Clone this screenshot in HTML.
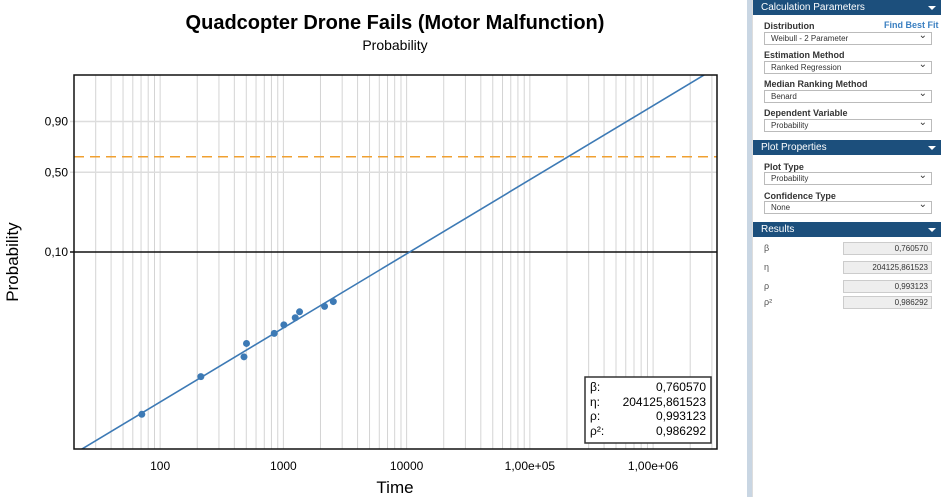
<!DOCTYPE html>
<html><head><meta charset="utf-8"><style>
body{margin:0;width:943px;height:497px;overflow:hidden;background:#fff;font-family:"Liberation Sans",Arial,sans-serif;position:relative}
.hdr{position:absolute;left:753px;width:188px;height:15px;background:#1c4f7c;color:#fff;font-size:10px;line-height:15px;padding-left:8px;box-sizing:border-box}
.hdr:after{content:"";position:absolute;right:5px;top:6px;border:4px solid transparent;border-top:4px solid #fff;border-bottom:0}
.lbl{position:absolute;left:764px;font-size:9px;font-weight:bold;color:#333}
.sel{position:absolute;left:764px;width:168px;height:13px;border:1px solid #bbb;box-sizing:border-box;background:#fff;font-size:8px;line-height:11px;padding-left:6px;color:#333}
.sel:after{content:"⌄";position:absolute;right:4px;top:-3px;font-size:10px}
.rl{position:absolute;left:764px;font-size:9px;color:#555}
.rv{position:absolute;left:843px;width:89px;height:13px;border:1px solid #ccc;box-sizing:border-box;background:#eee;font-size:8px;line-height:11px;text-align:right;padding-right:3px;color:#333}
</style></head><body>
<svg id="chart" width="745" height="497" style="position:absolute;left:0;top:0" font-family="Liberation Sans, Arial, sans-serif">
<text x="395" y="29" text-anchor="middle" font-size="20" font-weight="bold">Quadcopter Drone Fails (Motor Malfunction)</text>
<text x="395" y="50" text-anchor="middle" font-size="14">Probability</text>
<g id="grid"></g><g id="marks"></g>
<rect x="74" y="75" width="643" height="374" fill="none" stroke="#111" stroke-width="1.5"/>
<text x="395" y="493" text-anchor="middle" font-size="17">Time</text>
<text transform="translate(18,262) rotate(-90)" text-anchor="middle" font-size="17">Probability</text>
<g font-size="12">
<rect x="585" y="377" width="126" height="66" fill="#fff" stroke="#333" stroke-width="1.5"/>
<text x="590" y="391">β:</text><text x="706" y="391" text-anchor="end">0,760570</text>
<text x="590" y="406">η:</text><text x="706" y="406" text-anchor="end">204125,861523</text>
<text x="590" y="420">ρ:</text><text x="706" y="420" text-anchor="end">0,993123</text>
<text x="590" y="435">ρ²:</text><text x="706" y="435" text-anchor="end">0,986292</text>
</g>
</svg>
<div style="position:absolute;left:747px;top:0;width:5px;height:497px;background:#c9d6e3"></div>
<div style="position:absolute;left:752px;top:0;width:191px;height:497px;background:#fff;border-left:1px solid #ddd"></div>
<div class="hdr" style="top:0">Calculation Parameters</div>
<div class="lbl" style="top:21px">Distribution</div>
<div style="position:absolute;left:884px;top:20px;font-size:9px;font-weight:bold;color:#3a7fc1">Find Best Fit</div>
<div class="sel" style="top:32px">Weibull - 2 Parameter</div>
<div class="lbl" style="top:50px">Estimation Method</div>
<div class="sel" style="top:61px">Ranked Regression</div>
<div class="lbl" style="top:79px">Median Ranking Method</div>
<div class="sel" style="top:90px">Benard</div>
<div class="lbl" style="top:108px">Dependent Variable</div>
<div class="sel" style="top:119px">Probability</div>
<div class="hdr" style="top:140px">Plot Properties</div>
<div class="lbl" style="top:162px">Plot Type</div>
<div class="sel" style="top:172px">Probability</div>
<div class="lbl" style="top:191px">Confidence Type</div>
<div class="sel" style="top:201px">None</div>
<div class="hdr" style="top:222px">Results</div>
<div class="rl" style="top:243px">β</div>
<div class="rv" style="top:242px">0,760570</div>
<div class="rl" style="top:262px">η</div>
<div class="rv" style="top:261px">204125,861523</div>
<div class="rl" style="top:281px">ρ</div>
<div class="rv" style="top:280px">0,993123</div>
<div class="rl" style="top:297px">ρ²</div>
<div class="rv" style="top:296px">0,986292</div>
<script>
const times=[71,214,479,502,843,1009,1248,1353,2158,2541];
const probs=[0.00227,0.00552,0.0088,0.01205,0.01527,0.01863,0.022,0.0253,0.0287,0.0321];
const beta=0.76057, eta=204125.861523;
const yTicks=[0.9,0.5,0.1];
const yTickLabels=["0,90","0,50","0,10"];
const xTicks=[100,1000,10000,100000,1000000];
const xTickLabels=["100","1000","10000","1,00e+05","1,00e+06"];
const refProb=0.632;
const X0=74,X1=717,Y0=75,Y1=449,xmin=20,xmax=3.3e6,pmin=0.001,pmax=0.999;
const NS="http://www.w3.org/2000/svg";
const lx=t=>Math.log10(t), wy=p=>Math.log(-Math.log(1-p));
const sx=t=>X0+(lx(t)-lx(xmin))/(lx(xmax)-lx(xmin))*(X1-X0);
const sy=p=>Y1-(wy(p)-wy(pmin))/(wy(pmax)-wy(pmin))*(Y1-Y0);
// linearized y for fit line (avoids p saturation)
const syLin=t=>Y1-(beta*(Math.log(t)-Math.log(eta))-wy(pmin))/(wy(pmax)-wy(pmin))*(Y1-Y0);
function mk(tag,at,parent){const e=document.createElementNS(NS,tag);for(const k in at)e.setAttribute(k,at[k]);parent.appendChild(e);return e;}
const g=document.getElementById('grid'),m=document.getElementById('marks');
for(let d=1;d<=6;d++)for(let k=1;k<=9;k++){const t=k*Math.pow(10,d);if(t<xmin||t>xmax)continue;
 const l=mk('line',{x1:sx(t),x2:sx(t),y1:Y0,y2:Y1,stroke:'#d4d4d4','stroke-width':1},g);
 
 }
xTicks.forEach((t,i)=>{const e=mk('text',{x:sx(t),y:470,'text-anchor':'middle','font-size':12},g);e.textContent=xTickLabels[i];
 
 });
yTicks.forEach((p,i)=>{const y=sy(p);
 const l=mk('line',{x1:X0-4,x2:X1,y1:y,y2:y,stroke:p===0.1?'#111':'#ddd','stroke-width':1.5},g);
 
 
 const e=mk('text',{x:X0-6,y:y+4,'text-anchor':'end','font-size':12},g);e.textContent=yTickLabels[i];
 
 });
const ref=mk('line',{x1:X0,x2:X1,y1:sy(refProb),y2:sy(refProb),stroke:'#f0a030','stroke-width':1.5,'stroke-dasharray':'10,6'},m);


const tA=xmin/2,tB=xmax*2;
const cp=mk('clipPath',{id:'cp'},m);mk('rect',{x:X0,y:Y0,width:X1-X0,height:Y1-Y0},cp);
const fl=mk('line',{x1:sx(tA),y1:syLin(tA),x2:sx(tB),y2:syLin(tB),stroke:'#3d7ab5','stroke-width':1.6,'clip-path':'url(#cp)'},m);


times.forEach((t,i)=>{const c=mk('circle',{cx:sx(t),cy:sy(probs[i]),r:3.5,fill:'#3d7ab5'},m);
 
 });
</script>
</body></html>
